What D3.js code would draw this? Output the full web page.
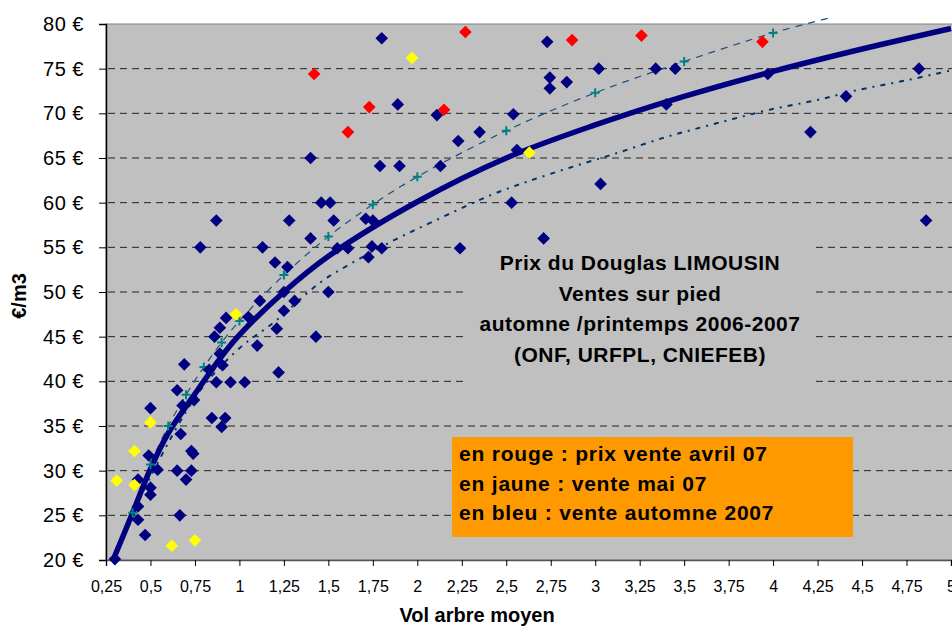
<!DOCTYPE html>
<html>
<head>
<meta charset="UTF-8">
<title>Prix du Douglas LIMOUSIN</title>
<script src="https://d3js.org/d3.v7.min.js"></script>
<style>
  body { margin: 0; background: #fff; }
  svg { display: block; font-family: Arial, "Liberation Sans", sans-serif; }
  .grid line { stroke: #222; stroke-dasharray: 7,5; }
  .ylab { font-size: 20px; letter-spacing: 0.5px; }
  .xlab { font-size: 16px; }
  .title { font-size: 21px; font-weight: bold; letter-spacing: 0.5px; }
  .legend { font-size: 21px; font-weight: bold; letter-spacing: 0.8px; }
</style>
</head>
<body>
<svg width="952" height="628"></svg>
<script>
// vente automne 2007 (bleu)
var blueX = [0.30, 0.43, 0.43, 0.43, 0.47, 0.49, 0.50, 0.50, 0.50, 0.54, 0.65, 0.665, 0.67, 0.65, 0.69,
  0.68, 0.70, 0.73, 0.73, 0.74, 0.745, 0.78, 0.83, 0.845, 0.87, 0.86, 0.87, 0.89, 0.89, 0.90, 0.905,
  0.92, 0.925, 0.95, 1.03, 1.05, 1.10, 1.115, 1.13, 1.20, 1.21, 1.22, 1.25, 1.25, 1.27, 1.28, 1.31,
  1.40, 1.40, 1.43, 1.46, 1.51, 1.50, 1.53, 1.55, 1.61, 1.71, 1.725, 1.745, 1.75, 1.79, 1.80, 1.80,
  1.89, 1.90, 2.11, 2.13, 2.23, 2.24, 2.35, 2.53, 2.54, 2.56, 2.71, 2.73, 2.745, 2.745, 2.84, 3.02,
  3.03, 3.34, 3.40, 3.45, 3.97, 4.21, 4.41, 4.82, 4.86]
var blueY = [20.1, 29.0, 26.0, 24.5, 22.8, 31.7, 28.1, 27.3, 37.0, 30.1, 30.0, 25.0, 34.1, 39.0, 41.9,
  37.3, 29.0, 30.0, 32.2, 31.9, 37.9, 55.0, 41.3, 35.9, 39.9, 45.0, 58.0, 46.0, 43.1, 34.9, 41.8,
  35.9, 47.1, 39.9, 39.9, 47.2, 44.0, 49.0, 55.0, 53.3, 45.9, 41.0, 47.9, 50.0, 52.8, 58.0, 49.0,
  65.0, 56.0, 45.0, 60.0, 60.0, 50.0, 58.0, 54.9, 54.9, 58.2, 53.9, 55.1, 58.0, 64.1, 54.9, 78.4,
  71.0, 64.1, 69.8, 64.1, 66.9, 54.9, 67.9, 60.0, 69.9, 65.9, 56.0, 78.0, 74.0, 72.8, 73.5, 75.0,
  62.1, 75.0, 71.0, 75.0, 74.4, 67.9, 71.9, 75.0, 58.0]

// prix vente avril 07 (rouge)
var redX = [1.42, 1.61, 1.73, 2.15, 2.27, 2.87, 3.26, 3.94]
var redY = [74.4, 67.9, 70.7, 70.4, 79.1, 78.2, 78.7, 78.0]

// vente mai 07 (jaune)
var yellowX = [0.31, 0.41, 0.41, 0.50, 0.62, 0.75, 0.98, 1.97, 2.63]
var yellowY = [28.9, 32.2, 28.4, 35.4, 21.6, 22.2, 47.5, 76.2, 65.6]

// courbe moyenne (trait épais)
var meanX = [0.29, 0.4, 0.5, 0.6, 0.75, 0.9, 1.0, 1.25, 1.5, 2.0, 2.5, 3.0, 3.5, 4.0, 4.5, 5.0]
var meanY = [20.0, 25.3, 30.2, 34.2, 38.6, 42.8, 45.2, 50.0, 54.0, 60.1, 65.0, 68.7, 71.9, 74.7, 77.2, 79.5]

// courbe haute (croix)
var highX = [0.29, 0.4, 0.5, 0.6, 0.7, 0.8, 0.9, 1.0, 1.25, 1.5, 1.75, 2.0, 2.5, 3.0, 3.5, 4.0, 4.32]
var highY = [20.0, 25.3, 30.7, 35.0, 38.5, 41.6, 44.35, 46.75, 51.9, 56.2, 59.8, 62.9, 68.05, 72.3, 75.8, 79.0, 80.7]
var highMarkers = [false, true, true, true, true, true, true, true, true, true, true, true, true, true, true, true, false]

// courbe basse (pointillés)
var lowX = [0.29, 0.5, 0.78, 1.0, 1.2, 1.45, 1.62, 1.86, 2.1, 2.42, 2.61, 2.87, 3.13, 3.39, 3.59, 3.78, 3.98, 4.25, 4.45, 4.75, 5.0]
var lowY = [20.0, 29.3, 39.0, 43.7, 46.7, 51.0, 53.1, 55.7, 58.0, 60.9, 62.3, 64.0, 65.6, 67.3, 68.4, 69.4, 70.4, 71.5, 72.5, 73.7, 74.8]

var xTicks = [0.25, 0.5, 0.75, 1, 1.25, 1.5, 1.75, 2, 2.25, 2.5, 2.75, 3, 3.25, 3.5, 3.75, 4, 4.25, 4.5, 4.75, 5]
var yTicks = [20, 25, 30, 35, 40, 45, 50, 55, 60, 65, 70, 75, 80]

var titleLines = ["Prix du Douglas LIMOUSIN", "Ventes sur pied", "automne /printemps 2006-2007", "(ONF,  URFPL, CNIEFEB)"]
var legendLines = ["en rouge : prix vente avril 07", "en jaune : vente mai 07", "en bleu : vente automne 2007"]

var svg = d3.select("svg")
var plotLeft = 106, plotRight = 951, plotTop = 24, plotBottom = 560

var x = d3.scaleLinear().domain([0.25, 5]).range([plotLeft, plotRight])
var y = d3.scaleLinear().domain([20, 80]).range([plotBottom, plotTop])

// fond de la zone de tracé
svg.append("rect")
  .attr("x", plotLeft).attr("y", plotTop)
  .attr("width", plotRight - plotLeft + 2).attr("height", plotBottom - plotTop)
  .attr("fill", "#c0c0c0")
  .attr("stroke", "#808080")

// grille horizontale
svg.append("g")
  .attr("class", "grid")
  .selectAll("line")
  .data(yTicks.filter(function(d) { return d > 20 && d < 80 }))
  .enter().append("line")
  .attr("x1", plotLeft + 2).attr("x2", plotRight + 1)
  .attr("y1", function(d) { return y(d) }).attr("y2", function(d) { return y(d) })

// cadre du titre (masque la grille)
svg.append("rect")
  .attr("x", 467).attr("y", 238).attr("width", 345).attr("height", 160)
  .attr("fill", "#c0c0c0")

// axes
var yAxis = svg.append("g")
  .attr("transform", "translate(" + plotLeft + ",0)")
  .call(d3.axisLeft(y).tickValues(yTicks).tickSize(7).tickFormat(function(d) { return d + " €" }))
var xAxis = svg.append("g")
  .attr("transform", "translate(0," + plotBottom + ")")
  .call(d3.axisBottom(x).tickValues(xTicks).tickSize(6).tickFormat(function(d) { return String(d).replace(".", ",") }))

yAxis.select(".domain").attr("stroke", "#000").attr("stroke-width", 1.5)
xAxis.select(".domain").attr("stroke", "#555").attr("stroke-width", 1.5)
yAxis.selectAll(".tick line").attr("stroke", "#000")
xAxis.selectAll(".tick line").attr("stroke", "#000")
yAxis.attr("font-family", null).attr("font-size", null)
xAxis.attr("font-family", null).attr("font-size", null)
yAxis.selectAll(".tick text")
  .attr("class", "ylab").attr("fill", "#000").attr("x", -22)
xAxis.selectAll(".tick text")
  .attr("class", "xlab").attr("fill", "#000").attr("y", 21)

// titres des axes
svg.append("text")
  .attr("transform", "translate(26,296) rotate(-90)")
  .attr("text-anchor", "middle")
  .style("font-size", "20px").style("font-weight", "bold")
  .text("€/m3")
svg.append("text")
  .attr("x", 477).attr("y", 622)
  .attr("text-anchor", "middle")
  .style("font-size", "20px").style("font-weight", "bold")
  .text("Vol arbre moyen")

// courbes
function linePath(xs, ys) {
  return d3.line()
    .x(function(i) { return x(xs[i]) })
    .y(function(i) { return y(ys[i]) })
    .curve(d3.curveCatmullRom)(d3.range(xs.length))
}

svg.append("path")
  .attr("d", linePath(lowX, lowY))
  .attr("fill", "none").attr("stroke", "#003366")
  .attr("stroke-width", 2).attr("stroke-dasharray", "5,6,2,6")

svg.append("path")
  .attr("d", linePath(highX, highY))
  .attr("fill", "none").attr("stroke", "#1f4f7f")
  .attr("stroke-width", 1.2).attr("stroke-dasharray", "7,6")

svg.append("path")
  .attr("d", linePath(meanX, meanY))
  .attr("fill", "none").attr("stroke", "#000080")
  .attr("stroke-width", 5.5).attr("stroke-linejoin", "round")

svg.append("g").selectAll("path")
  .data(d3.range(highX.length).filter(function(i) { return highMarkers[i] }))
  .enter().append("path")
  .attr("d", "M-4.5,0H4.5M0,-4.5V4.5")
  .attr("transform", function(i) { return "translate(" + x(highX[i]) + "," + y(highY[i]) + ")" })
  .attr("stroke", "#008080").attr("stroke-width", 2).attr("fill", "none")

// points
function drawPoints(xs, ys, color) {
  svg.append("g").selectAll("path")
    .data(d3.range(xs.length))
    .enter().append("path")
    .attr("d", d3.symbol(d3.symbolSquare).size(80)())
    .attr("transform", function(i) { return "translate(" + x(xs[i]) + "," + y(ys[i]) + ") rotate(45)" })
    .attr("fill", color)
}
drawPoints(blueX, blueY, "#000080")
drawPoints(redX, redY, "#ff0000")
drawPoints(yellowX, yellowY, "#ffff00")

// titre
svg.append("g").selectAll("text")
  .data(titleLines)
  .enter().append("text")
  .attr("class", "title")
  .attr("x", 640)
  .attr("y", function(d, i) { return 270 + i * 30.7 })
  .attr("text-anchor", "middle")
  .text(function(d) { return d })

// légende
svg.append("rect")
  .attr("x", 452).attr("y", 437).attr("width", 401).attr("height", 100)
  .attr("fill", "#ff9900")
svg.append("g").selectAll("text")
  .data(legendLines)
  .enter().append("text")
  .attr("class", "legend")
  .attr("x", 459)
  .attr("y", function(d, i) { return 461 + i * 29.5 })
  .text(function(d) { return d })
</script>
</body>
</html>
